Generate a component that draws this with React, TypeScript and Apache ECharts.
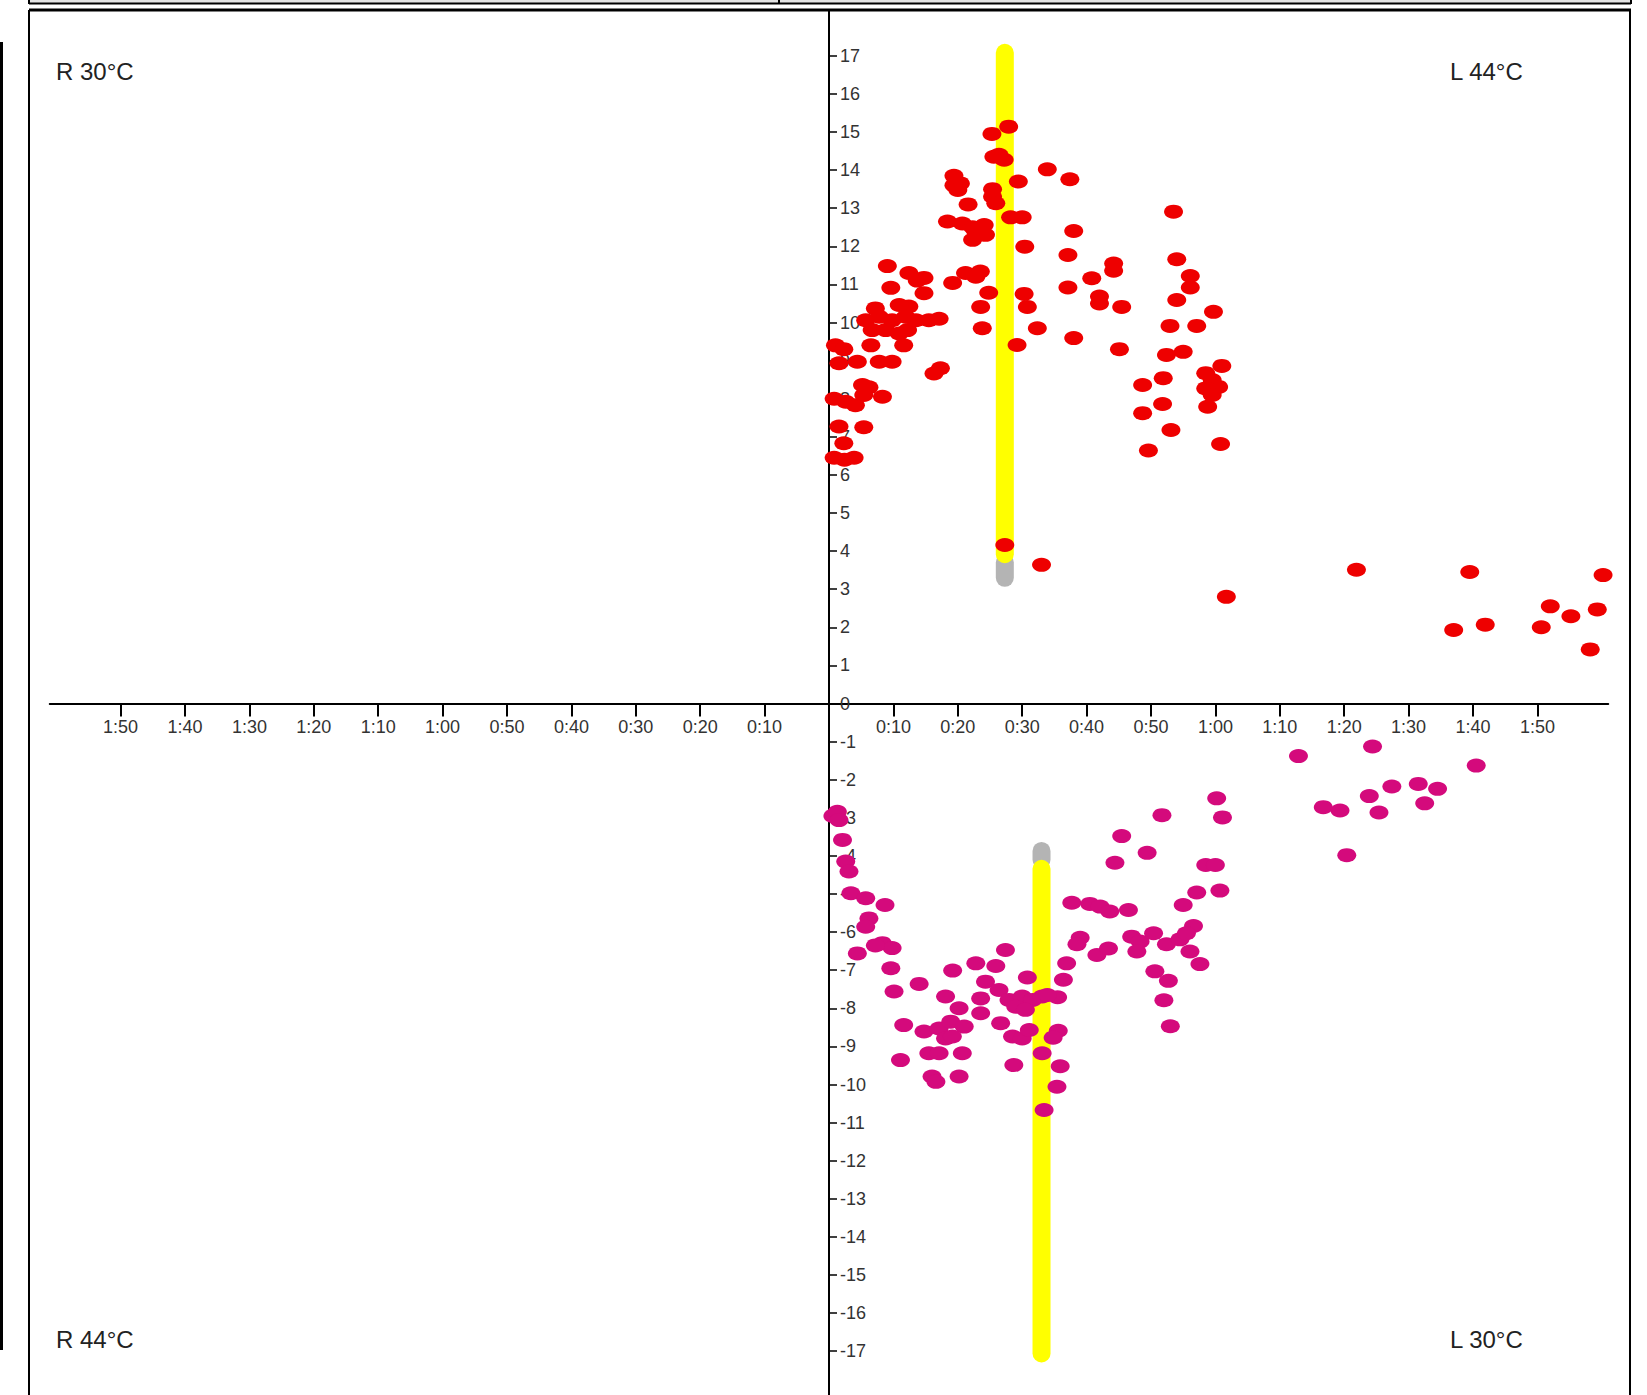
import React, { useEffect, useRef } from "react";
import * as echarts from "echarts";

// Tick values (minutes on x, value on y)
const X_TICKS = [-110, -100, -90, -80, -70, -60, -50, -40, -30, -20, -10, 10, 20, 30, 40, 50, 60, 70, 80, 90, 100, 110];
const Y_TICKS = [-17, -16, -15, -14, -13, -12, -11, -10, -9, -8, -7, -6, -5, -4, -3, -2, -1, 0, 1, 2, 3, 4, 5, 6, 7, 8, 9, 10, 11, 12, 13, 14, 15, 16, 17];

const QUADRANT_LABELS = ["R 30°C", "L 44°C", "R 44°C", "L 30°C"];

// Upper (red) points: [minutes, value]
const upperPoints: [number, number][] = [
  [27.9, 15.14], [25.3, 14.95], [25.6, 14.35], [26.4, 14.4], [27.2, 14.27], [33.9, 14.02], [29.4, 13.7],
  [19.4, 13.85], [20.4, 13.65], [19.4, 13.6], [20.0, 13.48],
  [25.4, 13.5], [25.4, 13.3], [25.9, 13.13], [21.6, 13.1],
  [28.2, 12.76], [30.0, 12.76], [18.4, 12.65],
  [20.7, 12.6], [22.3, 12.5], [24.1, 12.56], [22.8, 12.38], [24.3, 12.3], [22.3, 12.17],
  [30.4, 11.99], [9.06, 11.48], [12.4, 11.3], [14.75, 11.17], [13.7, 11.1],
  [23.5, 11.34], [21.2, 11.3], [22.8, 11.2], [19.2, 11.04], [9.6, 10.91], [14.75, 10.77], [24.8, 10.78],
  [30.3, 10.75], [30.8, 10.41], [23.55, 10.41],
  [7.2, 10.37], [10.9, 10.46], [12.4, 10.42],
  [5.7, 10.06], [7.8, 10.15], [9.8, 10.06], [11.9, 10.15], [13.5, 10.06], [15.5, 10.06], [17.1, 10.1],
  [6.7, 9.8], [8.8, 9.8], [10.9, 9.71], [12.2, 9.8],
  [23.8, 9.85], [32.35, 9.85], [11.6, 9.4], [29.2, 9.41], [1.0, 9.4], [2.3, 9.3], [6.5, 9.4],
  [1.55, 8.93], [4.4, 8.97], [7.8, 8.97], [9.8, 8.97], [16.3, 8.66], [17.3, 8.8],
  [5.2, 8.36], [6.2, 8.3], [0.8, 8.0], [2.6, 7.92], [4.1, 7.83], [5.4, 8.1], [8.3, 8.05],
  [1.55, 7.27], [5.4, 7.25], [2.3, 6.83], [0.8, 6.45], [2.4, 6.4], [3.9, 6.45],
  [37.4, 13.76], [53.5, 12.91], [38.0, 12.4], [37.1, 11.77], [54.0, 11.66], [44.2, 11.55], [44.2, 11.36],
  [40.8, 11.16], [37.1, 10.92], [56.1, 11.22], [56.1, 10.92], [54.0, 10.59], [42.0, 10.68], [42.0, 10.5],
  [45.45, 10.41], [59.7, 10.28], [52.95, 9.91], [57.1, 9.91], [38.0, 9.59], [45.1, 9.3], [52.4, 9.15],
  [55.0, 9.23], [61.0, 8.86], [51.9, 8.54], [58.5, 8.67], [59.5, 8.49], [60.5, 8.31], [58.5, 8.27],
  [59.5, 8.1], [58.8, 7.79], [48.7, 8.36], [51.8, 7.86], [48.7, 7.62], [53.1, 7.18], [60.8, 6.81], [49.6, 6.64],
  [27.3, 4.16], [33.0, 3.64], [61.7, 2.8], [81.9, 3.51], [99.5, 3.45], [97.0, 1.93], [101.9, 2.07],
  [110.6, 2.0], [112.0, 2.55], [115.2, 2.29], [119.3, 2.47], [120.2, 3.37], [118.2, 1.42],
];

// Lower (magenta) points: [minutes, value]
const lowerPoints: [number, number][] = [
  [0.6, -2.95], [1.3, -2.84], [1.55, -3.06], [2.1, -3.58], [2.6, -4.15], [3.1, -4.41], [3.4, -4.98], [5.7, -5.11],
  [8.7, -5.29], [6.2, -5.64], [5.7, -5.86], [8.3, -6.29], [9.8, -6.42], [7.2, -6.35], [4.4, -6.56], [27.4, -6.47],
  [9.6, -6.95], [19.2, -7.01], [22.8, -6.82], [25.9, -6.89], [30.8, -7.19], [14.0, -7.36], [24.3, -7.3],
  [26.4, -7.52], [27.95, -7.78], [10.1, -7.56], [18.1, -7.69], [23.55, -7.74], [30.0, -7.69], [31.6, -7.78],
  [33.1, -7.69], [29.0, -7.96], [30.5, -8.04], [20.2, -8.0], [23.55, -8.13], [11.6, -8.44], [14.75, -8.61],
  [17.1, -8.53], [18.9, -8.35], [21.0, -8.48], [18.1, -8.79], [19.15, -8.74], [26.65, -8.39], [28.5, -8.74],
  [30.0, -8.79], [31.1, -8.57], [15.5, -9.18], [17.1, -9.18], [20.7, -9.18], [11.1, -9.36], [33.1, -9.18],
  [28.7, -9.49], [16.0, -9.79], [16.6, -9.93], [20.2, -9.79], [33.4, -10.67],
  [60.2, -2.49], [61.1, -2.99], [51.7, -2.93], [45.45, -3.48], [49.4, -3.92], [44.4, -4.18], [58.5, -4.24],
  [60.0, -4.24], [60.7, -4.91], [57.1, -4.96], [55.0, -5.29], [37.7, -5.23], [40.5, -5.26], [42.1, -5.33],
  [43.6, -5.46], [46.5, -5.42], [39.0, -6.15], [38.5, -6.32], [41.6, -6.6], [43.4, -6.43], [47.0, -6.12],
  [48.3, -6.25], [50.4, -6.03], [47.8, -6.51], [52.4, -6.32], [54.5, -6.19], [56.6, -5.84], [55.5, -6.03],
  [56.05, -6.51], [57.6, -6.84], [36.9, -6.82], [36.4, -7.25], [35.5, -7.71], [33.9, -7.65], [50.6, -7.03],
  [52.7, -7.28], [52.0, -7.79], [53.0, -8.47], [35.6, -8.59], [34.8, -8.77], [35.9, -9.52], [35.4, -10.06],
  [72.9, -1.38], [84.4, -1.13], [100.5, -1.63], [87.4, -2.18], [91.5, -2.11], [94.5, -2.24], [83.9, -2.43],
  [92.5, -2.62], [76.75, -2.72], [79.35, -2.81], [85.4, -2.86], [80.4, -3.98],
];

// Vertical bars: [minutes, value] end points
const upperYellow: [number, number][] = [[27.3, 3.92], [27.3, 17.08]];
const upperGray: [number, number][] = [[27.3, 3.3], [27.3, 3.7]];
const lowerYellow: [number, number][] = [[33.0, -4.34], [33.0, -17.06]];
const lowerGray: [number, number][] = [[33.0, -3.87], [33.0, -4.1]];

const fmtTime = (v: number) => {
  const a = Math.abs(Math.round(v));
  return `${Math.floor(a / 60)}:${String(a % 60).padStart(2, "0")}`;
};

const FONT = "'Liberation Sans', Arial, sans-serif";

// geometry
const GRID_LEFT = 49.76;
const GRID_WIDTH = 1558.48;
const GRID_TOP = 10.08;
const GRID_HEIGHT = 1386.84;
const ZERO_X = 829;
const ZERO_Y = 703.5;

export default function App() {
  const ref = useRef<HTMLDivElement>(null);
  useEffect(() => {
    document.body.style.margin = "0";
    document.body.style.overflow = "hidden";
    const chart = echarts.init(ref.current!, null, { renderer: "svg" });

    const line = (x1: number, y1: number, x2: number, y2: number, w: number, c = "#000") => ({
      type: "line",
      shape: { x1, y1, x2, y2 },
      style: { stroke: c, lineWidth: w },
      silent: true,
    });
    const label = (text: string, x: number, y: number) => ({
      type: "text",
      x,
      y,
      style: { text, font: `24px ${FONT}`, fill: "#222", verticalAlign: "middle", align: "left" },
      silent: true,
    });

    const barSeries = (data: [number, number][], color: string, z: number) => ({
      type: "line",
      data,
      symbol: "none",
      z,
      silent: true,
      clip: false,
      lineStyle: { color, width: 18, cap: "round" },
    });

    chart.setOption({
      animation: false,
      backgroundColor: "#ffffff",
      grid: {
        left: GRID_LEFT,
        width: GRID_WIDTH,
        top: GRID_TOP,
        height: GRID_HEIGHT,
        containLabel: false,
        outerBoundsMode: "none",
      },
      xAxis: {
        type: "value",
        position: "bottom",
        min: -121,
        max: 121,
        offset: -(GRID_TOP + GRID_HEIGHT - ZERO_Y),
        axisLine: { onZero: false, lineStyle: { color: "#000", width: 2 } },
        axisTick: { show: true, length: 13, lineStyle: { color: "#000", width: 2 }, customValues: X_TICKS },
        axisLabel: {
          customValues: X_TICKS,
          formatter: (v: number) => fmtTime(v),
          color: "#333",
          fontSize: 18,
          fontFamily: FONT,
          margin: 14,
        },
        splitLine: { show: false },
      },
      yAxis: {
        type: "value",
        position: "left",
        min: -18.2,
        max: 18.2,
        offset: -(ZERO_X - GRID_LEFT),
        axisLine: { onZero: false, lineStyle: { color: "#000", width: 2 } },
        axisTick: { show: true, inside: true, length: 8, lineStyle: { color: "#000", width: 1.5 }, customValues: Y_TICKS },
        axisLabel: {
          inside: true,
          customValues: Y_TICKS,
          formatter: (v: number) => String(v),
          color: "#333",
          fontSize: 18,
          fontFamily: FONT,
          margin: 11,
        },
        splitLine: { show: false },
      },
      series: [
        barSeries(upperGray, "#b4b4b4", 1),
        barSeries(upperYellow, "#ffff00", 2),
        barSeries(lowerGray, "#b4b4b4", 1),
        barSeries(lowerYellow, "#ffff00", 2),
        {
          type: "scatter",
          data: upperPoints,
          symbol: "circle",
          symbolSize: [19, 14],
          z: 5,
          clip: false,
          itemStyle: { color: "#ee0000", opacity: 1 },
        },
        {
          type: "scatter",
          data: lowerPoints,
          symbol: "circle",
          symbolSize: [19, 14],
          z: 5,
          clip: false,
          itemStyle: { color: "#d40a7c", opacity: 1 },
        },
      ],
      graphic: [
        { type: "rect", shape: { x: 29, y: 0, width: 1602, height: 3 }, style: { fill: "#e4e4e4" }, silent: true },
        line(29, 3.5, 1631, 3.5, 2),
        line(29, 0, 29, 4, 2),
        line(779, 0, 779, 4, 2),
        line(1631, 0, 1631, 4, 2),
        line(29, 10, 1631, 10, 3),
        line(29, 10, 29, 1395, 2),
        line(1630, 10, 1630, 1395, 2),
        line(1.5, 42, 1.5, 1350, 3),
        label(QUADRANT_LABELS[0], 56, 71),
        label(QUADRANT_LABELS[1], 1450, 71),
        label(QUADRANT_LABELS[2], 56, 1339),
        label(QUADRANT_LABELS[3], 1450, 1339),
      ],
    });
    return () => chart.dispose();
  }, []);
  return <div ref={ref} style={{ width: 1647, height: 1395 }} />;
}
